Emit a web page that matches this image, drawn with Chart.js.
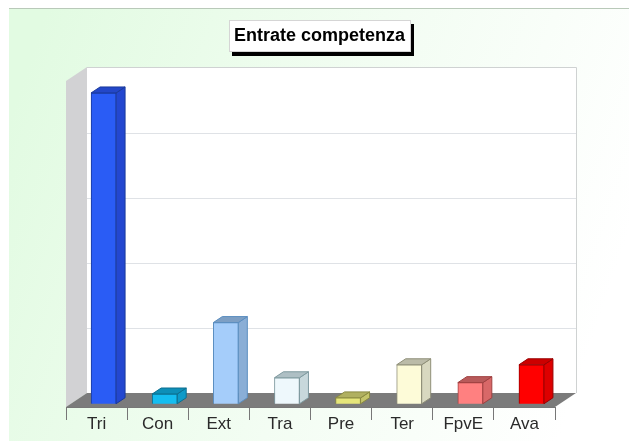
<!DOCTYPE html>
<html>
<head>
<meta charset="utf-8">
<style>
  html, body { margin: 0; padding: 0; background: #fff; }
  canvas { display: block; }
</style>
<script src="https://cdn.jsdelivr.net/npm/chart.js@4"></script>
</head>
<body>
<canvas id="chart" width="629" height="441"></canvas>
<script>
const titleText = 'Entrate competenza';
const categories = ['Tri', 'Con', 'Ext', 'Tra', 'Pre', 'Ter', 'FpvE', 'Ava'];
const values = [95.7, 3, 25, 8, 1.8, 12, 6.5, 12];
const gridValues = [20, 40, 60, 80];

const frontColors = ['#2a5cf5', '#14bdf0', '#a5cdfa', '#eef8fc', '#e6e67a', '#fdfbd8', '#ff8080', '#ff0000'];
const sideColors = ['#2347d0', '#0e9ac8', '#8aaed6', '#c8d8dc', '#c4c46a', '#d8d8c0', '#d86868', '#dd0000'];
const topColors = ['#2347c8', '#0d8fb8', '#7d9fc4', '#aebfc4', '#b0b060', '#bbbba8', '#b85a5a', '#cc0000'];
const edgeColors = ['#1a3a9c', '#0c6f90', '#5b8ec0', '#7f9aa0', '#8a8a40', '#8f8f78', '#a04040', '#990000'];

const depthX = 21, depthY = 14, floorInset = 3;
const barDepthX = 9, barDepthY = 6, barShift = 7;

function poly(ctx, pts, fill, stroke) {
  ctx.beginPath();
  pts.forEach((p, i) => i ? ctx.lineTo(p[0], p[1]) : ctx.moveTo(p[0], p[1]));
  ctx.closePath();
  ctx.fillStyle = fill;
  ctx.fill();
  if (stroke) {
    ctx.strokeStyle = stroke;
    ctx.lineWidth = 1;
    ctx.stroke();
  }
}

// page panel, the 3d walls and the floor
const backdrop = {
  id: 'backdrop',
  beforeDraw(chart) {
    const ctx = chart.ctx, a = chart.chartArea;
    const g = ctx.createLinearGradient(9, 120, 600, 320);
    g.addColorStop(0, '#e2fbe2');
    g.addColorStop(0.55, '#f3fdf3');
    g.addColorStop(1, '#ffffff');
    ctx.fillStyle = g;
    ctx.fillRect(9, 8, 620, 433);
    ctx.fillStyle = '#b9c9b9';
    ctx.fillRect(9, 8, 620, 1);

    const l = a.left, r = a.right, b = a.bottom;
    const wallTop = 67, wallBottom = b - depthY;
    poly(ctx, [[l + depthX, wallTop], [r + depthX, wallTop], [r + depthX, wallBottom], [l + depthX, wallBottom]], '#ffffff');
    poly(ctx, [[l, wallTop + depthY], [l + depthX, wallTop], [l + depthX, wallBottom], [l, b]], '#d2d2d4');
    ctx.strokeStyle = '#cfd2d2';
    ctx.lineWidth = 1;
    ctx.beginPath();
    ctx.moveTo(l + depthX, wallTop + 0.5);
    ctx.lineTo(r + depthX + 0.5, wallTop + 0.5);
    ctx.lineTo(r + depthX + 0.5, wallBottom);
    ctx.stroke();

    const y = chart.scales.y;
    ctx.strokeStyle = '#dfe2e6';
    gridValues.forEach(v => {
      const py = Math.round(y.getPixelForValue(v) - depthY + floorInset) + 0.5;
      ctx.beginPath();
      ctx.moveTo(l + depthX, py);
      ctx.lineTo(r + depthX, py);
      ctx.stroke();
    });
    poly(ctx, [[l, b], [l + depthX, wallBottom], [r + depthX, wallBottom], [r, b]], '#7b7b7b');
  }
};

const bars3d = {
  id: 'bars3d',
  // bars stand a little to the right of their category slot
  afterDatasetsUpdate(chart) {
    chart.getDatasetMeta(0).data.forEach(bar => { bar.x += barShift; });
  },
  beforeDatasetsDraw(chart) {
    const ctx = chart.ctx;
    chart.getDatasetMeta(0).data.forEach((bar, i) => {
      const half = bar.width / 2;
      const x0 = bar.x - half, x1 = bar.x + half, top = bar.y, base = bar.base;
      poly(ctx, [[x1, top], [x1 + barDepthX, top - barDepthY], [x1 + barDepthX, base - barDepthY], [x1, base]], sideColors[i], edgeColors[i]);
      poly(ctx, [[x0, top], [x0 + barDepthX, top - barDepthY], [x1 + barDepthX, top - barDepthY], [x1, top]], topColors[i], edgeColors[i]);
    });
  }
};

const titleBox = {
  id: 'titleBox',
  afterDraw(chart) {
    const ctx = chart.ctx;
    ctx.fillStyle = '#000';
    ctx.fillRect(232, 24, 182, 32);
    ctx.fillStyle = '#fff';
    ctx.fillRect(229, 20, 182, 32);
    ctx.strokeStyle = '#d5d5d5';
    ctx.lineWidth = 1;
    ctx.strokeRect(229.5, 20.5, 181, 31);
    ctx.fillStyle = '#000';
    ctx.font = 'bold 18px "Liberation Sans", Arial, sans-serif';
    ctx.textAlign = 'center';
    ctx.textBaseline = 'middle';
    ctx.fillText(titleText, 319.5, 36);
  }
};

new Chart(document.getElementById('chart'), {
  type: 'bar',
  data: {
    labels: categories,
    datasets: [{
      data: values,
      backgroundColor: frontColors,
      borderColor: edgeColors,
      borderWidth: 1,
      barThickness: 25,
      clip: false
    }]
  },
  options: {
    responsive: false,
    animation: false,
    layout: { padding: { left: 66, right: 74, top: 79, bottom: 0 } },
    plugins: { legend: { display: false }, tooltip: { enabled: false } },
    scales: {
      x: {
        afterFit(scale) { scale.height = 34; },
        border: { color: '#777', width: 1 },
        grid: { drawOnChartArea: false, tickLength: 13, color: '#777' },
        ticks: {
          autoSkip: false,
          maxRotation: 0,
          padding: -6,
          color: '#2a2a2a',
          font: { family: '"Liberation Sans", Arial, sans-serif', size: 17 }
        }
      },
      y: { display: false, min: -1, max: 100 }
    }
  },
  plugins: [backdrop, bars3d, titleBox]
});
</script>
</body>
</html>
